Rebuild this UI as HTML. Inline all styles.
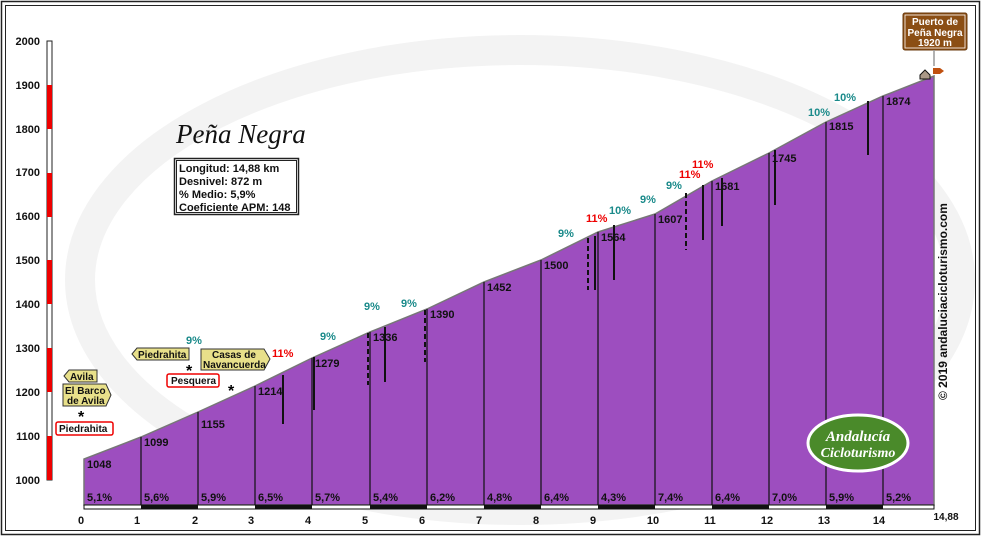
<!DOCTYPE html>
<html><head><meta charset="utf-8"><style>
body{margin:0;background:#fff}
svg{display:block;font-family:"Liberation Sans",sans-serif}
.b{font-weight:bold;font-size:11px;fill:#111}
.t{font-weight:bold;font-size:11px;fill:#111}
.g{font-weight:bold;font-size:11px;fill:#1a8a8a}
.r{font-weight:bold;font-size:11px;fill:#e00}
</style></head><body>
<svg width="981" height="536" viewBox="0 0 981 536">
<rect x="0" y="0" width="981" height="536" fill="#fff"/>
<rect x="1.5" y="1.5" width="978" height="533" fill="none" stroke="#222" stroke-width="1.5"/>
<rect x="5.5" y="5.5" width="970" height="525" fill="none" stroke="#222" stroke-width="1"/>
<ellipse cx="520" cy="280" rx="440" ry="230" fill="none" stroke="#f3f3f3" stroke-width="30"/>
<rect x="47" y="41" width="5" height="439" fill="#fff" stroke="#222" stroke-width="1"/>
<rect x="47" y="436" width="5" height="44" fill="#e00"/>
<rect x="47" y="348" width="5" height="44" fill="#e00"/>
<rect x="47" y="260" width="5" height="44" fill="#e00"/>
<rect x="47" y="173" width="5" height="44" fill="#e00"/>
<rect x="47" y="85" width="5" height="44" fill="#e00"/>
<g class="b" text-anchor="end">
<text x="40" y="484">1000</text><text x="40" y="440">1100</text><text x="40" y="396">1200</text><text x="40" y="352">1300</text><text x="40" y="308">1400</text><text x="40" y="264">1500</text><text x="40" y="220">1600</text><text x="40" y="176">1700</text><text x="40" y="133">1800</text><text x="40" y="89">1900</text><text x="40" y="45">2000</text>
</g>
<polygon points="84,505 84,459 141,437 198,412 255,386 312,358 370,332 427,309 484,282 541,260 598,232 655,214 712,181 769,153 826,122 883,96 934,76 934,505" fill="#9d4ebf" stroke="#777" stroke-width="1.5"/>
<g stroke="#111" stroke-width="1.2">
<line x1="141" y1="437" x2="141" y2="505"/><line x1="198" y1="412" x2="198" y2="505"/><line x1="255" y1="386" x2="255" y2="505"/><line x1="312" y1="358" x2="312" y2="505"/><line x1="370" y1="332" x2="370" y2="505"/><line x1="427" y1="309" x2="427" y2="505"/><line x1="484" y1="282" x2="484" y2="505"/><line x1="541" y1="260" x2="541" y2="505"/><line x1="598" y1="232" x2="598" y2="505"/><line x1="655" y1="214" x2="655" y2="505"/><line x1="712" y1="181" x2="712" y2="505"/><line x1="769" y1="153" x2="769" y2="505"/><line x1="826" y1="122" x2="826" y2="505"/><line x1="883" y1="96" x2="883" y2="505"/>
</g>
<g stroke="#111" stroke-width="2">
<line x1="283" y1="375" x2="283" y2="424"/><line x1="314" y1="357" x2="314" y2="410"/><line x1="385" y1="327" x2="385" y2="382"/><line x1="614" y1="225" x2="614" y2="280"/><line x1="703" y1="185" x2="703" y2="240"/><line x1="722" y1="178" x2="722" y2="226"/><line x1="775" y1="150" x2="775" y2="205"/><line x1="868" y1="101" x2="868" y2="155"/><line x1="595" y1="236" x2="595" y2="290"/>
</g>
<g stroke="#111" stroke-width="2" stroke-dasharray="5,3">
<line x1="368" y1="333" x2="368" y2="385"/><line x1="425" y1="310" x2="425" y2="362"/><line x1="588" y1="238" x2="588" y2="290"/><line x1="686" y1="193" x2="686" y2="250"/>
</g>
<rect x="84" y="505" width="850" height="4" fill="#fff" stroke="#111" stroke-width="1"/>
<g fill="#111"><rect x="141" y="505" width="57" height="4"/><rect x="255" y="505" width="57" height="4"/><rect x="370" y="505" width="57" height="4"/><rect x="484" y="505" width="57" height="4"/><rect x="598" y="505" width="57" height="4"/><rect x="712" y="505" width="57" height="4"/><rect x="826" y="505" width="57" height="4"/></g>
<g class="t">
<text x="87" y="468">1048</text><text x="144" y="446">1099</text><text x="201" y="428">1155</text><text x="258" y="395">1214</text><text x="315" y="367">1279</text><text x="373" y="341">1336</text><text x="430" y="318">1390</text><text x="487" y="291">1452</text><text x="544" y="269">1500</text><text x="601" y="241">1564</text><text x="658" y="223">1607</text><text x="715" y="190">1681</text><text x="772" y="162">1745</text><text x="829" y="130">1815</text><text x="886" y="105">1874</text>
</g>
<g class="t">
<text x="87" y="501">5,1%</text><text x="144" y="501">5,6%</text><text x="201" y="501">5,9%</text><text x="258" y="501">6,5%</text><text x="315" y="501">5,7%</text><text x="373" y="501">5,4%</text><text x="430" y="501">6,2%</text><text x="487" y="501">4,8%</text><text x="544" y="501">6,4%</text><text x="601" y="501">4,3%</text><text x="658" y="501">7,4%</text><text x="715" y="501">6,4%</text><text x="772" y="501">7,0%</text><text x="829" y="501">5,9%</text><text x="886" y="501">5,2%</text>
</g>
<g class="b" text-anchor="middle">
<text x="81" y="524">0</text><text x="137" y="524">1</text><text x="195" y="524">2</text><text x="251" y="524">3</text><text x="308" y="524">4</text><text x="365" y="524">5</text><text x="422" y="524">6</text><text x="479" y="524">7</text><text x="536" y="524">8</text><text x="593" y="524">9</text><text x="653" y="524">10</text><text x="710" y="524">11</text><text x="767" y="524">12</text><text x="824" y="524">13</text><text x="879" y="524">14</text><text x="946" y="520" font-size="10">14,88</text>
</g>
<g class="g"><text x="186" y="344">9%</text><text x="320" y="340">9%</text><text x="364" y="310">9%</text><text x="401" y="307">9%</text><text x="558" y="237">9%</text><text x="609" y="214">10%</text><text x="640" y="203">9%</text><text x="666" y="189">9%</text><text x="808" y="116">10%</text><text x="834" y="101">10%</text></g>
<g class="r"><text x="272" y="357">11%</text><text x="586" y="222">11%</text><text x="679" y="178">11%</text><text x="692" y="168">11%</text></g>
<text x="176" y="143" font-family="Liberation Serif,serif" font-style="italic" font-size="27" fill="#111">Peña Negra</text>
<rect x="174.5" y="158.5" width="124" height="56" fill="#fff" stroke="#222" stroke-width="1.5"/>
<rect x="176.5" y="160.5" width="120" height="52" fill="none" stroke="#222"/>
<g class="t"><text x="179" y="172">Longitud: 14,88 km</text><text x="179" y="185">Desnivel: 872 m</text><text x="179" y="198">% Medio: 5,9%</text><text x="179" y="211">Coeficiente APM: 148</text></g>
<g font-weight="bold" font-size="10" fill="#111">
<polygon points="64,376 69,370 97,370 97,382 69,382" fill="#e8e08a" stroke="#333"/><text x="70" y="380">Avila</text>
<polygon points="63,384 106,384 111,395 106,406 63,406" fill="#e8e08a" stroke="#333"/><text x="65" y="394">El Barco</text><text x="67" y="404">de Avila</text>
<rect x="56" y="422" width="57" height="13" rx="2" fill="#fff" stroke="#e00" stroke-width="1.5"/><text x="59" y="432">Piedrahita</text>
<polygon points="132,354 137,348 189,348 189,360 137,360" fill="#e8e08a" stroke="#333"/><text x="138" y="358">Piedrahita</text>
<rect x="167" y="374" width="52" height="13" rx="2" fill="#fff" stroke="#e00" stroke-width="1.5"/><text x="171" y="384">Pesquera</text>
<polygon points="201,349 264,349 270,359 264,370 201,370" fill="#e8e08a" stroke="#333"/><text x="212" y="358">Casas de</text><text x="203" y="368">Navancuerda</text>
</g>
<text x="78" y="422" font-size="16" font-weight="bold">*</text>
<text x="186" y="376" font-size="16" font-weight="bold">*</text>
<text x="228" y="396" font-size="16" font-weight="bold">*</text>
<rect x="903" y="13" width="64" height="37" rx="2" fill="#8b4e14" stroke="#6a3a0d"/>
<rect x="905" y="15" width="60" height="33" fill="none" stroke="#fff" stroke-width="0.8"/>
<g font-weight="bold" font-size="10" fill="#fff" text-anchor="middle"><text x="935" y="25">Puerto de</text><text x="935" y="36">Peña Negra</text><text x="935" y="46">1920 m</text></g>
<line x1="934" y1="50" x2="934" y2="66" stroke="#999" stroke-width="1.5"/>
<polygon points="920,75 925,70 930,75 930,79 920,79" fill="#a98" stroke="#111"/>
<polygon points="933,68 940,68 944,71 940,74 933,74" fill="#c05010"/>
<text x="0" y="0" transform="translate(947,400) rotate(-90)" font-weight="bold" font-size="12" fill="#111">© 2019 andaluciacicloturismo.com</text>
<ellipse cx="858" cy="443" rx="50" ry="28" fill="#4a8a2a" stroke="#fff" stroke-width="3"/>
<text x="858" y="441" text-anchor="middle" font-family="Liberation Serif,serif" font-style="italic" font-weight="bold" font-size="15" fill="#fff">Andalucía</text>
<text x="858" y="457" text-anchor="middle" font-family="Liberation Serif,serif" font-style="italic" font-weight="bold" font-size="14" fill="#fff">Cicloturismo</text>
</svg>
</body></html>
